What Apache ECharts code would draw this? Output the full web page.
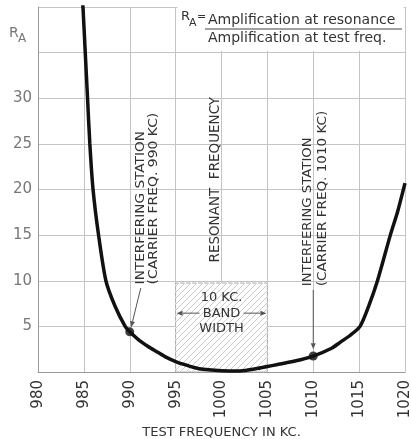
<!DOCTYPE html>
<html>
<head>
<meta charset="utf-8">
<script src="https://cdn.jsdelivr.net/npm/echarts@6/dist/echarts.min.js"></script>
<style>
  html, body { margin: 0; padding: 0; background: #fff; }
  #chart { width: 411px; height: 439px; }
</style>
</head>
<body>
<div id="chart"></div>
<script>
// ---- Data ----
const freqKc = [984.75, 984.9, 985.15, 985.4, 985.65, 986.0, 986.6, 987.4, 988.4, 989.5, 990, 991, 992, 993, 994, 995, 996, 997, 998, 1000, 1002, 1004, 1005, 1006, 1008, 1010, 1012, 1013, 1014, 1015.1, 1016, 1017, 1018.4, 1019.2, 1020];
const ratioRA = [42, 40, 35, 30, 25, 20, 15, 10, 7.2, 5, 4.4, 3.5, 2.8, 2.2, 1.6, 1.15, 0.8, 0.5, 0.3, 0.15, 0.12, 0.4, 0.6, 0.8, 1.2, 1.75, 2.6, 3.3, 4.0, 5.0, 7.1, 10, 15, 17.6, 20.7];
const markedFreq = [990, 1010];
const markedRatio = [4.4, 1.75];
const xTicks = [980, 985, 990, 995, 1000, 1005, 1010, 1015, 1020];
const yTickLabels = [5, 10, 15, 20, 25, 30];
const bandFreq = [995, 1005];
const bandTop = 9.75;

const chart = echarts.init(document.getElementById('chart'), null, { renderer: 'canvas' });

// hatch pattern
function hatch() {
  const c = document.createElement('canvas');
  c.width = 6; c.height = 6;
  const g = c.getContext('2d');
  g.fillStyle = '#fff'; g.fillRect(0, 0, 6, 6);
  g.strokeStyle = '#bcbcbc'; g.lineWidth = 0.8;
  g.beginPath();
  g.moveTo(0, 6); g.lineTo(6, 0);
  g.moveTo(-3, 3); g.lineTo(3, -3);
  g.moveTo(3, 9); g.lineTo(9, 3);
  g.stroke();
  return c;
}

const font = '"DejaVu Sans", sans-serif';

chart.setOption({
  animation: false,
  backgroundColor: '#fff',
  grid: { left: 38, right: 6, top: 7, bottom: 67, containLabel: false, outerBoundsMode: 'none' },
  xAxis: {
    type: 'value', min: 980, max: 1020, interval: 5,
    axisLine: { show: true, lineStyle: { color: '#999', width: 1 } },
    axisTick: { show: false },
    splitLine: { show: true, lineStyle: { color: '#c4c4c4', width: 1 } },
    axisLabel: {
      rotate: 90, margin: 8, color: '#333', fontFamily: font, fontSize: 15,
      formatter: v => xTicks.includes(v) ? String(v) : ''
    },
    name: 'TEST FREQUENCY IN KC.', nameLocation: 'middle', nameGap: 54,
    nameTextStyle: { color: '#333', fontFamily: font, fontSize: 13 }
  },
  yAxis: {
    type: 'value', min: 0, max: 40, interval: 5,
    axisLine: { show: true, lineStyle: { color: '#999', width: 1 } },
    axisTick: { show: false },
    splitLine: { show: true, lineStyle: { color: '#c4c4c4', width: 1 } },
    axisLabel: {
      margin: 6, color: '#777', fontFamily: font, fontSize: 15,
      formatter: v => yTickLabels.includes(v) ? String(v) : ''
    }
  },
  series: [
    {
      type: 'line',
      data: freqKc.map((f, i) => [f, ratioRA[i]]),
      smooth: 0.25,
      symbol: 'none',
      lineStyle: { color: '#111', width: 3.5 },
      clip: true,
      z: 5,
      markArea: {
        silent: true,
        itemStyle: {
          color: { image: hatch(), repeat: 'repeat' },
          borderColor: '#aaa', borderWidth: 1, borderType: 'dashed'
        },
        data: [[{ coord: [bandFreq[0], 0] }, { coord: [bandFreq[1], bandTop] }]]
      }
    },
    {
      type: 'scatter',
      data: markedFreq.map((f, i) => [f, markedRatio[i]]),
      symbolSize: 9,
      itemStyle: { color: '#111' },
      z: 6
    }
  ]
});

function P(x, y) { return chart.convertToPixel({ gridIndex: 0 }, [x, y]); }

function vtext(fx, fy, str, size, sx, color) {
  const p = P(fx, fy);
  return {
    type: 'text', x: p[0], y: p[1], rotation: Math.PI / 2, scaleX: sx || 1, z: 20,
    style: { text: str, fill: color || '#333', font: size + 'px ' + font, textAlign: 'left', textVerticalAlign: 'middle' }
  };
}
function arrow(x1, y1, x2, y2, color) {
  const a = P(x1, y1), b = P(x2, y2);
  const ang = Math.atan2(b[1] - a[1], b[0] - a[0]);
  const L = 6, W = 2.5;
  const bx = b[0] - L * Math.cos(ang), by = b[1] - L * Math.sin(ang);
  const nx = -Math.sin(ang), ny = Math.cos(ang);
  return [
    { type: 'line', z: 20, shape: { x1: a[0], y1: a[1], x2: bx, y2: by }, style: { stroke: color, lineWidth: 1 } },
    { type: 'polygon', z: 20, shape: { points: [[b[0], b[1]], [bx + nx * W, by + ny * W], [bx - nx * W, by - ny * W]] }, style: { fill: color } }
  ];
}

const g = [];
// formula mask box (top right)
const m1 = P(995.2, 40.8), m2 = P(1019.85, 35.2);
g.push({ type: 'rect', z: 15, shape: { x: m1[0], y: m1[1], width: m2[0] - m1[0], height: m2[1] - m1[1] }, style: { fill: '#fff' } });
// formula text
g.push({ type: 'text', z: 20, x: 181, y: 17, style: { text: 'R', fill: '#333', font: '13px ' + font, textVerticalAlign: 'middle' } });
g.push({ type: 'text', z: 20, x: 189, y: 23, style: { text: 'A', fill: '#333', font: '11px ' + font, textVerticalAlign: 'middle' } });
g.push({ type: 'text', z: 20, x: 197, y: 17, style: { text: '=', fill: '#333', font: '11px ' + font, textVerticalAlign: 'middle' } });
g.push({ type: 'text', z: 20, x: 208, y: 20, style: { text: 'Amplification at resonance', fill: '#333', font: '14px ' + font, textVerticalAlign: 'middle' } });
g.push({ type: 'line', z: 20, shape: { x1: 205, y1: 29, x2: 402, y2: 29 }, style: { stroke: '#444', lineWidth: 1 } });
g.push({ type: 'text', z: 20, x: 208, y: 38, style: { text: 'Amplification at test freq.', fill: '#333', font: '14px ' + font, textVerticalAlign: 'middle' } });
// y axis title R_A
g.push({ type: 'text', z: 20, x: 9, y: 33, style: { text: 'R', fill: '#777', font: '14px ' + font, textVerticalAlign: 'middle' } });
g.push({ type: 'text', z: 20, x: 18, y: 39, style: { text: 'A', fill: '#777', font: '12px ' + font, textVerticalAlign: 'middle' } });

// annotations
g.push(vtext(991.2, 9.6, 'INTERFERING STATION', 13, 1.05));
g.push(vtext(992.55, 9.6, '(CARRIER FREQ. 990 KC)', 13, 1.07));
g.push(vtext(999.3, 12.0, 'RESONANT  FREQUENCY', 13.5, 1.0));
g.push(vtext(1009.4, 9.4, 'INTERFERING STATION', 13, 1.02));
g.push(vtext(1011.05, 9.4, '(CARRIER FREQ. 1010 KC)', 13, 1.04));
g.push(...arrow(991.2, 9.2, 990.15, 4.9, '#555'));
g.push(...arrow(1010, 9.0, 1010, 2.5, '#555'));

// band text
[['10 KC.', 8.1], ['BAND', 6.45], ['WIDTH', 4.8]].forEach(([t, y]) => {
  const p = P(1000, y);
  g.push({ type: 'text', z: 20, x: p[0], y: p[1], style: { text: t, fill: '#333', font: '13px ' + font, textAlign: 'center', textVerticalAlign: 'middle' } });
});
g.push(...arrow(997.6, 6.45, 995.1, 6.45, '#555'));
g.push(...arrow(1002.4, 6.45, 1004.9, 6.45, '#555'));

chart.setOption({ graphic: g });
</script>
</body>
</html>
